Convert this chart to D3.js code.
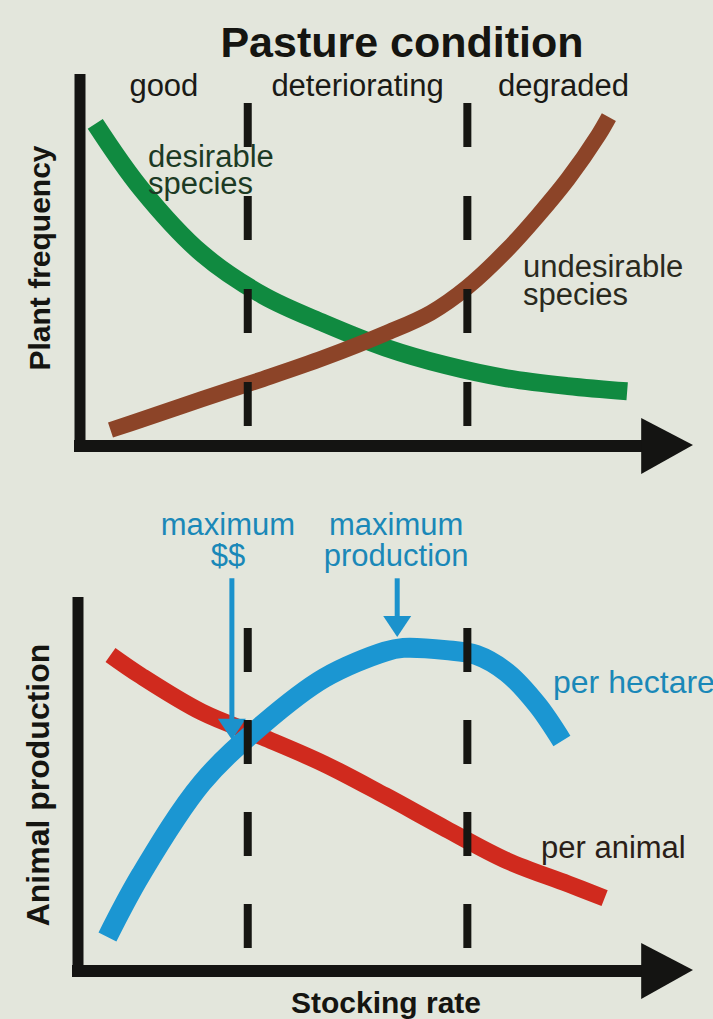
<!DOCTYPE html>
<html>
<head>
<meta charset="utf-8">
<title>Pasture condition and stocking rate</title>
<script src="https://cdn.jsdelivr.net/npm/d3@7/dist/d3.min.js"></script>
<style>
  body { margin: 0; background: #e3e6dc; }
  svg { display: block; }
  text { font-family: "Liberation Sans", Arial, Helvetica, sans-serif; }
</style>
</head>
<body>
<svg id="chart" width="713" height="1019"></svg>
<script>
// pasture condition stages (stocking rate units, 0-10)
var stageEdges = [0, 2.75, 6.35, 9.5];
var stageLabels = ["good", "deteriorating", "degraded"];

// top panel: plant frequency
var desirableX = [0.25, 1, 2, 3, 4, 5, 6, 7, 8, 8.97];
var desirableY = [8.66, 6.92, 5.17, 4.05, 3.30, 2.65, 2.17, 1.82, 1.61, 1.47];
var undesirableX = [0.5, 1, 2, 3, 4, 5, 5.75, 6.35, 7, 7.5, 8, 8.5, 8.67];
var undesirableY = [0.43, 0.70, 1.26, 1.80, 2.37, 3.02, 3.58, 4.27, 5.27, 6.18, 7.18, 8.36, 8.84];

// bottom panel: animal production
var perHectareX = [0.45, 1, 2, 3, 4, 5, 5.3, 6, 6.5, 7, 7.5, 7.9];
var perHectareY = [0.91, 2.58, 5.03, 6.60, 7.83, 8.54, 8.64, 8.58, 8.45, 7.98, 7.11, 6.15];
var perAnimalX = [0.5, 1, 2, 3, 4, 5, 6, 7, 8, 8.6];
var perAnimalY = [8.45, 7.89, 6.92, 6.25, 5.54, 4.69, 3.80, 2.95, 2.33, 1.95];

// optimum markers
var optimumX = [2.49, 5.2];
var optimumTipY = [6.18, 8.93];
var optimumLabels = [["maximum", "$$"], ["maximum", "production"]];

var svg = d3.select("#chart");
var W = 713, H = 1019;

svg.append("rect").attr("width", W).attr("height", H).attr("fill", "#e3e6dc");

var x = d3.scaleLinear().domain([0, 10]).range([80, 690]);
var yTop = d3.scaleLinear().domain([0, 10]).range([446, 74]);
var yBot = d3.scaleLinear().domain([0, 10]).range([971, 597]);

function curve(xs, ys, yScale) {
    var pts = xs.map(function(d, i) { return [d, ys[i]]; });
    return d3.line()
        .x(function(d) { return x(d[0]); })
        .y(function(d) { return yScale(d[1]); })
        .curve(d3.curveCatmullRom.alpha(0.5))(pts);
}

// curves
svg.append("path").attr("d", curve(desirableX, desirableY, yTop))
    .attr("fill", "none").attr("stroke", "#108a40").attr("stroke-width", 18);
svg.append("path").attr("d", curve(undesirableX, undesirableY, yTop))
    .attr("fill", "none").attr("stroke", "#8c4428").attr("stroke-width", 16);
svg.append("path").attr("d", curve(perAnimalX, perAnimalY, yBot))
    .attr("fill", "none").attr("stroke", "#d02a1e").attr("stroke-width", 17);

// blue arrows: over the red line, under the blue one
var arrows = svg.append("g").attr("fill", "#1b92cc").attr("stroke", "#1b92cc");
optimumX.forEach(function(v, i) {
    var ax = x(v), tip = yBot(optimumTipY[i]);
    arrows.append("line")
        .attr("x1", ax).attr("x2", ax)
        .attr("y1", yBot(10.5)).attr("y2", tip - 18)
        .attr("stroke-width", 5);
    arrows.append("path")
        .attr("stroke", "none")
        .attr("d", "M" + (ax - 14) + "," + (tip - 21) + "L" + (ax + 14) + "," + (tip - 21) + "L" + ax + "," + tip + "Z");
});

svg.append("path").attr("d", curve(perHectareX, perHectareY, yBot))
    .attr("fill", "none").attr("stroke", "#1b96d2").attr("stroke-width", 20);

// stage boundaries
[stageEdges[1], stageEdges[2]].forEach(function(v) {
    svg.append("line")
        .attr("x1", x(v)).attr("x2", x(v))
        .attr("y1", 103).attr("y2", 426)
        .attr("stroke", "#161612").attr("stroke-width", 8)
        .attr("stroke-dasharray", "44,49");
    svg.append("line")
        .attr("x1", x(v)).attr("x2", x(v))
        .attr("y1", 628).attr("y2", 948)
        .attr("stroke", "#161612").attr("stroke-width", 8)
        .attr("stroke-dasharray", "44,48");
});

// axes with arrow heads
function axes(yScale, ax) {
    var g = svg.append("g").attr("stroke", "#141412").attr("fill", "#141412");
    var y0 = yScale(0);
    g.append("line").attr("x1", ax).attr("x2", ax)
        .attr("y1", yScale(10)).attr("y2", y0 + 6).attr("stroke-width", 11);
    g.append("line").attr("x1", ax - 6).attr("x2", x(9.3))
        .attr("y1", y0).attr("y2", y0).attr("stroke-width", 12);
    g.append("path").attr("stroke", "none")
        .attr("d", "M" + x(9.2) + "," + (y0 - 28) + "L" + (x(10) + 3) + "," + (y0 - 1) +
                   "L" + x(9.2) + "," + (y0 + 28) + "Z");
}
axes(yTop, 80);
axes(yBot, 78);

// text
svg.append("text").attr("x", 402).attr("y", 57)
    .attr("text-anchor", "middle").attr("font-size", 43).attr("font-weight", "bold")
    .attr("fill", "#151511").text("Pasture condition");

stageLabels.forEach(function(s, i) {
    svg.append("text")
        .attr("x", x((stageEdges[i] + stageEdges[i + 1]) / 2)).attr("y", 96)
        .attr("text-anchor", "middle").attr("font-size", 31)
        .attr("fill", "#1a1a16").text(s);
});

function multi(lines, px, py, anchor, color, lh, size) {
    var t = svg.append("text").attr("x", px).attr("y", py)
        .attr("text-anchor", anchor).attr("font-size", size || 31).attr("fill", color);
    lines.forEach(function(l, i) {
        t.append("tspan").attr("x", px).attr("dy", i ? lh : 0).text(l);
    });
}
multi(["desirable", "species"], 148, 167, "start", "#1c3a24", 27);
multi(["undesirable", "species"], 523, 277, "start", "#2a2a1e", 28);
multi(["per hectare"], 553, 693, "start", "#1a88b8", 0, 32);
multi(["per animal"], 541, 858, "start", "#2a1e18", 0);
optimumX.forEach(function(v, i) {
    multi(optimumLabels[i], x(v) + 3 * i - 4, 535, "middle", "#1a88b8", 31);
});

svg.append("text").attr("transform", "translate(50,258) rotate(-90)")
    .attr("text-anchor", "middle").attr("font-size", 30).attr("font-weight", "bold")
    .attr("fill", "#151511").text("Plant frequency");
svg.append("text").attr("transform", "translate(49,785) rotate(-90)")
    .attr("text-anchor", "middle").attr("font-size", 32).attr("font-weight", "bold")
    .attr("fill", "#151511").text("Animal production");
svg.append("text").attr("x", 386).attr("y", 1013)
    .attr("text-anchor", "middle").attr("font-size", 30).attr("font-weight", "bold")
    .attr("fill", "#151511").text("Stocking rate");
</script>
</body>
</html>
